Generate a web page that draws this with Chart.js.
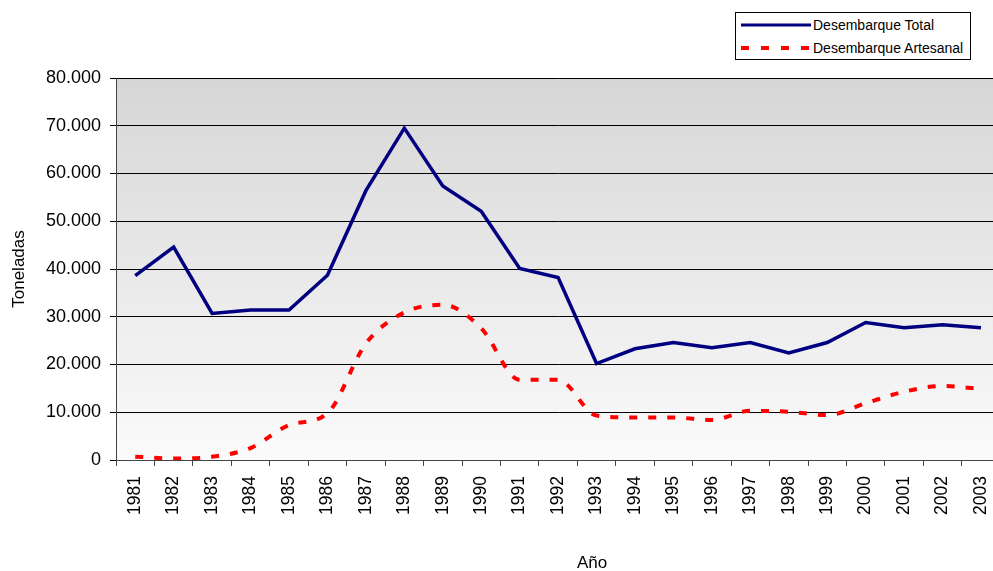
<!DOCTYPE html>
<html>
<head>
<meta charset="utf-8">
<script src="https://cdn.jsdelivr.net/npm/chart.js@4.4.0/dist/chart.umd.min.js"></script>
<style>
  html, body { margin:0; padding:0; background:#fff; overflow:hidden; width:993px; height:571px; }
  #wrap { position:relative; width:993px; height:571px; overflow:hidden; }
  canvas { position:absolute; left:0; top:0; }
  #legend { position:absolute; left:735px; top:12px; width:234px; height:46px; border:1px solid #000; background:#fff;
            font-family:"Liberation Sans", Arial, sans-serif; font-size:14px; color:#000; }
  .row { position:absolute; left:5px; height:20px; display:flex; align-items:center; }
  .row svg { width:70px; height:10px; margin-right:2px; }
  #xtitle { position:absolute; left:592px; top:563px; transform:translate(-50%,-50%);
            font-family:"Liberation Sans", Arial, sans-serif; font-size:17px; color:#000; white-space:nowrap; }
</style>
</head>
<body>
<div id="wrap">
  <canvas id="c" width="1012" height="571"></canvas>
  <div id="legend">
    <div class="row" style="top:2px"><svg viewBox="0 0 70 10"><line x1="0" y1="5" x2="70" y2="5" stroke="#000080" stroke-width="3"/></svg><span>Desembarque Total</span></div>
    <div class="row" style="top:25px"><svg viewBox="0 0 70 10"><line x1="0" y1="5" x2="70" y2="5" stroke="#ff0000" stroke-width="4" stroke-dasharray="8,12"/></svg><span>Desembarque Artesanal</span></div>
  </div>
  <div id="xtitle">Año</div>
</div>
<script>
const years = ['1981','1982','1983','1984','1985','1986','1987','1988','1989','1990','1991','1992','1993','1994','1995','1996','1997','1998','1999','2000','2001','2002','2003'];
const desembarqueTotal = [38600,44600,30700,31400,31400,38700,56400,69500,57400,52100,40100,38200,20200,23300,24600,23500,24600,22400,24600,28800,27700,28300,27700];
const desembarqueArtesanal = [700,300,700,2500,7300,9800,24400,30900,32500,27600,16800,16800,9300,8900,8900,8400,10300,10100,9400,11900,14300,15500,14900];
const yTicks = [0,10000,20000,30000,40000,50000,60000,70000,80000];

const fontFam = '"Liberation Sans", Arial, sans-serif';
function fmt(v){ return String(v).replace(/\B(?=(\d{3})+(?!\d))/g, '.'); }

const bgPlugin = {
  id: 'bgGrad',
  beforeDraw(chart) {
    const {ctx, chartArea:a} = chart;
    const g = ctx.createLinearGradient(0, a.top, 0, a.bottom);
    g.addColorStop(0, '#d6d6d6');
    g.addColorStop(1, '#fbfbfb');
    ctx.save();
    ctx.fillStyle = g;
    ctx.fillRect(a.left, a.top, a.right - a.left, a.bottom - a.top);
    ctx.restore();
  }
};

new Chart(document.getElementById('c'), {
  type: 'line',
  data: {
    labels: years,
    datasets: [
      { label: 'Desembarque Total', data: desembarqueTotal, borderColor: '#000080', borderWidth: 3.5,
        pointRadius: 0, tension: 0, fill: false },
      { label: 'Desembarque Artesanal', data: desembarqueArtesanal, borderColor: '#ff0000', borderWidth: 4,
        borderDash: [8, 11], pointRadius: 0, cubicInterpolationMode: 'monotone', fill: false }
    ]
  },
  options: {
    responsive: false,
    animation: false,
    layout: { padding: { left: 0, right: 0, top: 78, bottom: 0 } },
    plugins: { legend: { display: false }, tooltip: { enabled: false } },
    scales: {
      x: {
        offset: true,
        grid: { offset: true, drawOnChartArea: false, drawTicks: true, tickLength: 6, color: '#444', lineWidth: 1 },
        border: { display: true, color: '#444', width: 1 },
        ticks: { minRotation: 90, maxRotation: 90, autoSkip: false, padding: 10, color: '#000',
                 font: { family: fontFam, size: 17.5 } },
        title: { display: false },
        afterFit(s) { s.height = 111; }
      },
      y: {
        min: 0, max: 80000,
        afterBuildTicks(s) { s.ticks = yTicks.map(v => ({ value: v })); },
        grid: { color: '#000', lineWidth: 1, tickLength: 6, drawTicks: true },
        border: { display: true, color: '#444', width: 1 },
        ticks: { padding: 9, color: '#000', font: { family: fontFam, size: 18 }, callback: v => fmt(v) },
        title: { display: true, text: 'Toneladas', color: '#000', font: { family: fontFam, size: 17 }, padding: { top: 9, bottom: 0 } },
        afterFit(s) { s.width = 116; }
      }
    }
  },
  plugins: [bgPlugin]
});
</script>
</body>
</html>
